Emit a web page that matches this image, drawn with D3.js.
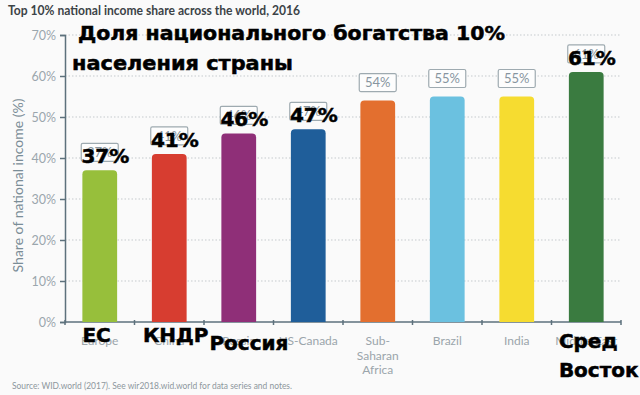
<!DOCTYPE html>
<html>
<head>
<meta charset="utf-8">
<script src="https://cdnjs.cloudflare.com/ajax/libs/d3/7.8.5/d3.min.js"></script>
<style>
  body { margin: 0; background: #fafafa; }
  svg { display: block; }
</style>
</head>
<body>
<div id="chart"></div>
<script>
'use strict';

// data
var categories = ['Europe', 'China', 'Russia', 'US-Canada', 'Sub-Saharan Africa', 'Brazil', 'India', 'Middle East'];
var catLines = [['Europe'], ['China'], ['Russia'], ['US-Canada'], ['Sub-', 'Saharan', 'Africa'], ['Brazil'], ['India'], ['Middle East']];
var shares = [37, 41, 46, 47, 54, 55, 55, 61];
var colors = ['#97bf3b', '#d73d30', '#8f2f78', '#1f5e9a', '#e36f2f', '#6bc1e0', '#f6dc30', '#3a7b40'];
var yTicks = [0, 10, 20, 30, 40, 50, 60, 70];

// russian overlay texts pasted on top of the chart
var ruTitle = ['Доля национального богатства 10%', 'населения страны'];
var ruCats = [['ЕС'], ['КНДР'], ['Россия'], [], [], [], [], ['Сред', 'Восток']];

var W = 640, H = 395;
var margin = {top: 35, right: 19, bottom: 73, left: 65};

var svg = d3.select('#chart').append('svg')
	.attr('width', W)
	.attr('height', H);

svg.append('rect').attr('width', W).attr('height', H).attr('fill', '#fafafa');

var x = d3.scaleBand()
	.domain(categories)
	.range([margin.left, W - margin.right])
	.paddingInner(0.5)
	.paddingOuter(0.25);

var y = d3.scaleLinear()
	.domain([0, 70])
	.range([H - margin.bottom, margin.top]);

// original chart title
svg.append('text')
	.attr('x', 8).attr('y', 15)
	.attr('font-family', 'Lato, sans-serif')
	.attr('font-weight', 'bold')
	.attr('font-size', 12.5)
	.attr('fill', '#3c4347')
	.attr('textLength', 292)
	.attr('lengthAdjust', 'spacingAndGlyphs')
	.text('Top 10% national income share across the world, 2016');

// gridlines
svg.append('g')
	.selectAll('line')
	.data(yTicks.slice(1))
	.enter().append('line')
	.attr('x1', margin.left).attr('x2', W - margin.right)
	.attr('y1', function(d) { return y(d); })
	.attr('y2', function(d) { return y(d); })
	.attr('stroke', '#c5cacd')
	.attr('stroke-dasharray', '1.5,2');

// y axis
var yAxis = svg.append('g')
	.attr('transform', 'translate(' + margin.left + ',0)')
	.call(d3.axisLeft(y).tickValues(yTicks).tickSize(5).tickFormat(function(d) { return d + '%'; }));
yAxis.select('.domain').attr('stroke', '#5d717c').attr('stroke-width', 1.5);
yAxis.selectAll('.tick line').attr('stroke', '#5d717c').attr('stroke-width', 1.5);
yAxis.selectAll('.tick text')
	.attr('x', -9)
	.attr('font-family', 'Lato, sans-serif')
	.attr('font-size', 12.5)
	.attr('fill', '#9aa6ad');

svg.append('text')
	.attr('transform', 'translate(23,' + (y(35) + 7) + ') rotate(-90)')
	.attr('text-anchor', 'middle')
	.attr('font-family', 'Lato, sans-serif')
	.attr('font-size', 14)
	.attr('fill', '#7a8d97')
	.text('Share of national income (%)');

// x axis line with ticks at band edges
var bottom = H - margin.bottom;
svg.append('line')
	.attr('x1', margin.left).attr('x2', W - margin.right)
	.attr('y1', bottom).attr('y2', bottom)
	.attr('stroke', '#5d717c').attr('stroke-width', 1.5);
var step = x.step();
svg.append('g')
	.selectAll('line')
	.data(d3.range(categories.length + 1))
	.enter().append('line')
	.attr('x1', function(i) { return x(categories[0]) - step * 0.25 + i * step; })
	.attr('x2', function(i) { return x(categories[0]) - step * 0.25 + i * step; })
	.attr('y1', bottom - 2).attr('y2', bottom + 3)
	.attr('stroke', '#5d717c').attr('stroke-width', 1.5);

// bars with rounded tops
var r = 4;
function barPath(d, i) {
	var x0 = x(categories[i]), x1 = x0 + x.bandwidth();
	var y0 = y(d), y1 = y(0);
	return 'M' + x0 + ',' + y1 + 'V' + (y0 + r) + 'Q' + x0 + ',' + y0 + ' ' + (x0 + r) + ',' + y0 +
		'H' + (x1 - r) + 'Q' + x1 + ',' + y0 + ' ' + x1 + ',' + (y0 + r) + 'V' + y1 + 'Z';
}
svg.append('g')
	.selectAll('path')
	.data(shares)
	.enter().append('path')
	.attr('d', barPath)
	.attr('fill', function(d, i) { return colors[i]; });

// value boxes
var boxW = 37, boxH = 18;
var boxes = svg.append('g')
	.selectAll('g')
	.data(shares)
	.enter().append('g')
	.attr('transform', function(d, i) {
		return 'translate(' + (x(categories[i]) + x.bandwidth() / 2) + ',' + (y(d) - 9 - boxH / 2) + ')';
	});
boxes.append('rect')
	.attr('x', -boxW / 2).attr('y', -boxH / 2)
	.attr('width', boxW).attr('height', boxH)
	.attr('rx', 1.5)
	.attr('fill', '#fdfdfd')
	.attr('stroke', '#9eaab0')
	.attr('stroke-width', 1.2);
boxes.append('text')
	.attr('text-anchor', 'middle')
	.attr('dy', '0.36em')
	.attr('font-family', 'Lato, sans-serif')
	.attr('font-size', 13)
	.attr('fill', '#8795a0')
	.text(function(d) { return d + '%'; });

// category labels
var catG = svg.append('g')
	.selectAll('text')
	.data(catLines)
	.enter().append('text')
	.attr('text-anchor', 'middle')
	.attr('font-family', 'Lato, sans-serif')
	.attr('font-size', 12)
	.attr('fill', '#9ba5ab');
catG.each(function(lines, i) {
	var t = d3.select(this);
	lines.forEach(function(l, k) {
		t.append('tspan')
			.attr('x', x(categories[i]) + x.bandwidth() / 2)
			.attr('y', bottom + 23 + k * 14.5)
			.text(l);
	});
});

// source
svg.append('text')
	.attr('x', 12).attr('y', 389)
	.attr('font-family', 'Lato, sans-serif')
	.attr('font-size', 9)
	.attr('fill', '#8d979d')
	.attr('textLength', 280)
	.attr('lengthAdjust', 'spacingAndGlyphs')
	.text('Source: WID.world (2017). See wir2018.wid.world for data series and notes.');

// ---- russian overlay ----
var ruFont = 'DejaVu Sans, sans-serif';
var titleLen = [427, 221];
svg.append('g')
	.selectAll('text')
	.data(ruTitle)
	.enter().append('text')
	.attr('x', function(d, i) { return i === 0 ? 78 : 72; })
	.attr('y', function(d, i) { return 40 + i * 30; })
	.attr('font-family', ruFont)
	.attr('font-weight', 'bold')
	.attr('font-size', 20)
	.attr('fill', '#000')
	.attr('stroke', '#000')
	.attr('stroke-width', 0.5)
	.attr('textLength', function(d, i) { return titleLen[i]; })
	.attr('lengthAdjust', 'spacingAndGlyphs')
	.text(function(d) { return d; });

svg.append('g')
	.selectAll('text')
	.data(shares)
	.enter().append('text')
	.attr('x', function(d, i) { return x(categories[i]) - 1; })
	.attr('y', function(d) { return y(d) - 7; })
	.attr('font-family', ruFont)
	.attr('font-weight', 'bold')
	.attr('font-size', 20)
	.attr('fill', '#000')
	.attr('stroke', '#000')
	.attr('stroke-width', 0.5)
	.text(function(d, i) { return (i >= 4 && i <= 6) ? '' : d + '%'; });

var ruOffsets = [[0, 20], [-9, 20], [-12, 28], [0, 0], [0, 0], [0, 0], [0, 0], [-10, 26]];
svg.append('g')
	.selectAll('text')
	.data(ruCats)
	.enter().append('text')
	.attr('font-family', ruFont)
	.attr('font-weight', 'bold')
	.attr('font-size', 20)
	.attr('fill', '#000')
	.attr('stroke', '#000')
	.attr('stroke-width', 0.5)
	.each(function(lines, i) {
		var t = d3.select(this);
		lines.forEach(function(l, k) {
			t.append('tspan')
				.attr('x', x(categories[i]) + ruOffsets[i][0])
				.attr('y', bottom + ruOffsets[i][1] + k * 29)
				.text(l);
		});
	});
</script>
</body>
</html>
